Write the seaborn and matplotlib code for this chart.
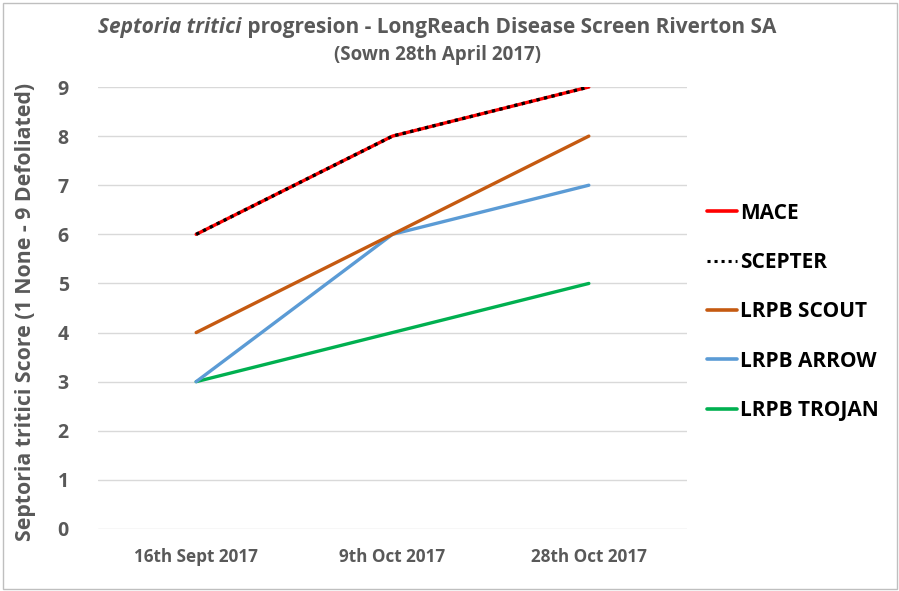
import matplotlib
matplotlib.use("Agg")
import matplotlib.pyplot as plt
import matplotlib.patches as mpatches
from matplotlib.lines import Line2D
import seaborn as sns
import pandas as pd

dates = ["16th Sept 2017", "9th Oct 2017", "28th Oct 2017"]
varieties = ["MACE", "SCEPTER", "LRPB SCOUT", "LRPB ARROW", "LRPB TROJAN"]
mace = [6, 8, 9]
scepter = [6, 8, 9]
scout = [4, 6, 8]
arrow = [3, 6, 7]
trojan = [3, 4, 5]
y_ticks = [0, 1, 2, 3, 4, 5, 6, 7, 8, 9]

colors = {"MACE": "#FF0000", "SCEPTER": "#000000", "LRPB SCOUT": "#C55A11",
          "LRPB ARROW": "#5B9BD5", "LRPB TROJAN": "#00B050"}

rows = []
for name, vals in zip(varieties, [mace, scepter, scout, arrow, trojan]):
    for i, (d, v) in enumerate(zip(dates, vals)):
        rows.append({"Date": d, "idx": i, "Variety": name, "Score": v})
df = pd.DataFrame(rows)

sns.set_theme(style="white")
FONT = "Open Sans"
plt.rcParams['font.family'] = [FONT, 'DejaVu Sans']
gray = "#595959"

fig = plt.figure(figsize=(8.99, 5.91), dpi=100)
ax = fig.add_axes([98/899, 1-529/591, (687-98)/899, (529-87)/591])

draw_order = ["LRPB TROJAN", "LRPB ARROW", "LRPB SCOUT", "MACE", "SCEPTER"]
for name in draw_order:
    sub = df[df["Variety"] == name]
    if name == "SCEPTER":
        sns.lineplot(data=sub, x="idx", y="Score", ax=ax, color="black",
                     linewidth=2.4, linestyle=(0, (1, 1.3)), zorder=6)
    else:
        sns.lineplot(data=sub, x="idx", y="Score", ax=ax, color=colors[name],
                     linewidth=2.4, zorder=5)

ax.set_xlim(-0.5, 2.5)
ax.set_ylim(0, 9)
ax.set_yticks(y_ticks)
ax.set_yticklabels([str(t) for t in y_ticks], fontsize=14, fontweight="bold", color=gray)
ax.set_xticks(range(len(dates)))
ax.set_xticklabels(dates, fontsize=12.3, fontweight="bold", color=gray)
ax.tick_params(axis="y", length=0, pad=21)
ax.tick_params(axis="x", length=0, pad=14)
ax.grid(axis="y", color="#D9D9D9", linewidth=1)
ax.set_axisbelow(True)
for s in ax.spines.values():
    s.set_visible(False)
ax.set_xlabel("")
ax.set_ylabel("Septoria tritici Score (1 None - 9 Defoliated)", fontsize=15.3,
              fontweight="bold", color=gray)
ax.yaxis.set_label_coords(-0.106, 0.49)

# legend
handles = []
for name in varieties:
    if name == "SCEPTER":
        handles.append(Line2D([], [], color="black", linewidth=2.2, linestyle=(0, (1, 1.3))))
    else:
        handles.append(Line2D([], [], color=colors[name], linewidth=2.6))
leg = fig.legend(handles, varieties, loc="upper left", bbox_to_anchor=(688/899, 1-184/591),
                 frameon=False, handlelength=1.45, handletextpad=0.15, labelspacing=1.36,
                 prop={"family": FONT, "weight": "bold", "size": 15})
for t in leg.get_texts():
    t.set_color("black")

# title with mixed styles
fig.canvas.draw()
renderer = fig.canvas.get_renderer()
t1 = fig.text(0, 1-27/591, "Septoria tritici", fontsize=15, style="italic",
              fontweight="bold", color=gray, va="center", ha="left")
t2 = fig.text(0, 1-27/591, " progresion - LongReach Disease Screen Riverton SA", fontsize=15,
              fontweight="bold", color=gray, va="center", ha="left")
w1 = t1.get_window_extent(renderer).width
w2 = t2.get_window_extent(renderer).width
total = w1 + w2
start = 437 - total / 2
t1.set_x(start / 899)
t2.set_x((start + w1) / 899)
fig.text(437/899, 1-55/591, "(Sown 28th April 2017)", fontsize=13.5, fontweight="bold",
         color=gray, ha="center", va="center")

# outer border
fig.patches.append(mpatches.Rectangle((3/899, 2/591), 894/899, 586/591, transform=fig.transFigure,
                                      fill=False, edgecolor="#BFBFBF", linewidth=1))

fig.savefig("out.png", dpi=100)
